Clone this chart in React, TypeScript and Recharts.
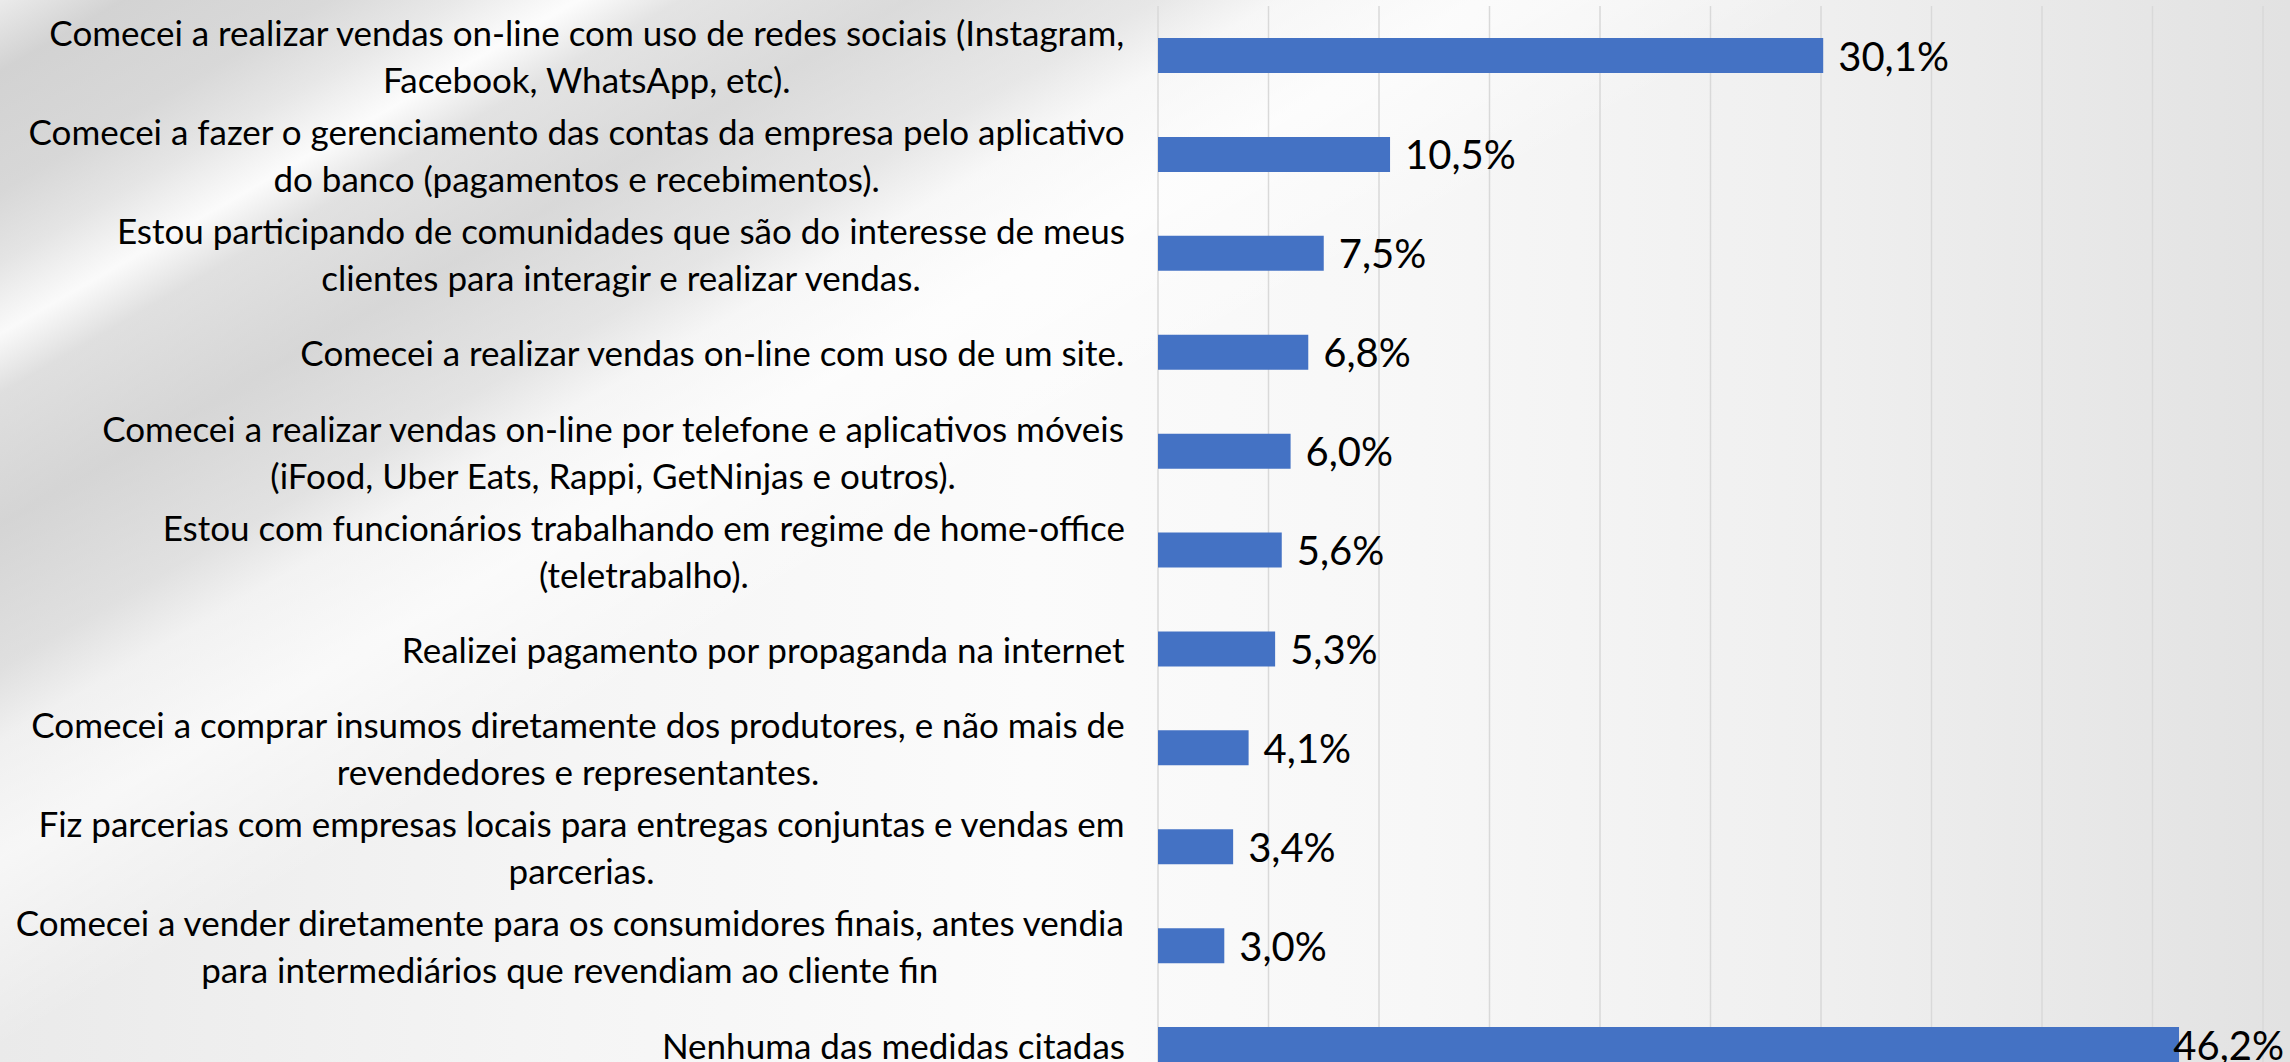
import React from "react";
import { BarChart, Bar, XAxis, YAxis, CartesianGrid, LabelList } from "recharts";

const categories: string[] = [
  "Comecei a realizar vendas on-line com uso de redes sociais (Instagram,\nFacebook, WhatsApp, etc).",
  "Comecei a fazer o gerenciamento das contas da empresa pelo aplicativo\ndo banco (pagamentos e recebimentos).",
  "Estou participando de comunidades que são do interesse de meus\nclientes para interagir e realizar vendas.",
  "Comecei a realizar vendas on-line com uso de um site.",
  "Comecei a realizar vendas on-line por telefone e aplicativos móveis\n(iFood, Uber Eats, Rappi, GetNinjas e outros).",
  "Estou com funcionários trabalhando em regime de home-office\n(teletrabalho).",
  "Realizei pagamento por propaganda na internet",
  "Comecei a comprar insumos diretamente dos produtores, e não mais de\nrevendedores e representantes.",
  "Fiz parcerias com empresas locais para entregas conjuntas e vendas em\nparcerias.",
  "Comecei a vender diretamente para os consumidores finais, antes vendia\npara intermediários que revendiam ao cliente fin",
  "Nenhuma das medidas citadas",
];

const values: number[] = [30.1, 10.5, 7.5, 6.8, 6.0, 5.6, 5.3, 4.1, 3.4, 3.0, 46.2];

const xTicks: number[] = [0, 5, 10, 15, 20, 25, 30, 35, 40, 45, 50];

const data = categories.map((name, i) => ({ name, value: values[i] }));

const FONT = "Lato, 'Liberation Sans', sans-serif";
const CAT_SIZE = 35;
const LBL_SIZE = 40;
const LINE_H = 47;
const CHART_W = 2290;

let ctx: CanvasRenderingContext2D | null = null;
function measure(text: string, size: number): number {
  if (!ctx) {
    const c = document.createElement("canvas");
    ctx = c.getContext("2d");
  }
  if (!ctx) return text.length * size * 0.5;
  ctx.font = `${size}px Lato`;
  return ctx.measureText(text).width;
}

const fmt = (v: number) => v.toFixed(1).replace(".", ",") + "%";

const CatTick = (props: any) => {
  const { x, y, payload } = props;
  const lines: string[] = String(payload.value).split("\n");
  const maxW = Math.max(...lines.map((l) => measure(l, CAT_SIZE)));
  const cx = x - maxW / 2;
  const start = y - ((lines.length - 1) * LINE_H) / 2;
  return (
    <g>
      {lines.map((l, i) => (
        <text
          key={i}
          x={cx}
          y={start + i * LINE_H}
          textAnchor="middle"
          dominantBaseline="central"
          fontFamily={FONT}
          fontSize={CAT_SIZE}
          fill="#000"
        >
          {l}
        </text>
      ))}
    </g>
  );
};

const ValueLabel = (props: any) => {
  const { x, y, width, height, value } = props;
  const txt = fmt(Number(value));
  const tw = measure(txt, LBL_SIZE);
  const tx = Math.min(x + width + 15, CHART_W - 6 - tw);
  return (
    <text
      x={tx}
      y={y + height / 2}
      textAnchor="start"
      dominantBaseline="central"
      fontFamily={FONT}
      fontSize={LBL_SIZE}
      fill="#000"
    >
      {txt}
    </text>
  );
};

const bg = [
  "linear-gradient(150deg, rgba(235,235,235,0.6) 0%, rgba(200,200,200,0.7) 3%, rgba(205,205,205,0.65) 8%, rgba(222,222,222,0.5) 11%, rgba(255,255,255,0.75) 14%, rgba(215,215,215,0.6) 16.5%, rgba(198,198,198,0.6) 22%, rgba(212,212,212,0.5) 28%, rgba(245,245,245,0.5) 31%, rgba(255,255,255,0.6) 36%, rgba(255,255,255,0) 44%)",
  "linear-gradient(to right, #eaeaea 0%, #f5f5f5 25%, #fbfbfb 45%, #f7f7f7 62%, #efefef 80%, #e2e2e2 100%)",
].join(", ");

export default function App() {
  return (
    <div
      style={{
        position: "fixed",
        left: 0,
        top: 0,
        width: 2290,
        height: 1062,
        overflow: "hidden",
        background: bg,
      }}
    >
      <BarChart
        width={CHART_W}
        height={1094}
        data={data}
        layout="vertical"
        margin={{ top: 6, right: 27, bottom: 0, left: 0 }}
      >
        <CartesianGrid horizontal={false} vertical={true} stroke="#d9d9d9" strokeWidth={1.5} />
        <XAxis type="number" domain={[0, 50]} ticks={xTicks} hide />
        <YAxis
          type="category"
          dataKey="name"
          width={1158}
          tick={<CatTick />}
          tickLine={false}
          axisLine={false}
          tickSize={0}
          tickMargin={33}
          interval={0}
        />
        <Bar dataKey="value" fill="#4472C4" barSize={35} isAnimationActive={false}>
          <LabelList dataKey="value" content={<ValueLabel />} />
        </Bar>
      </BarChart>
    </div>
  );
}
